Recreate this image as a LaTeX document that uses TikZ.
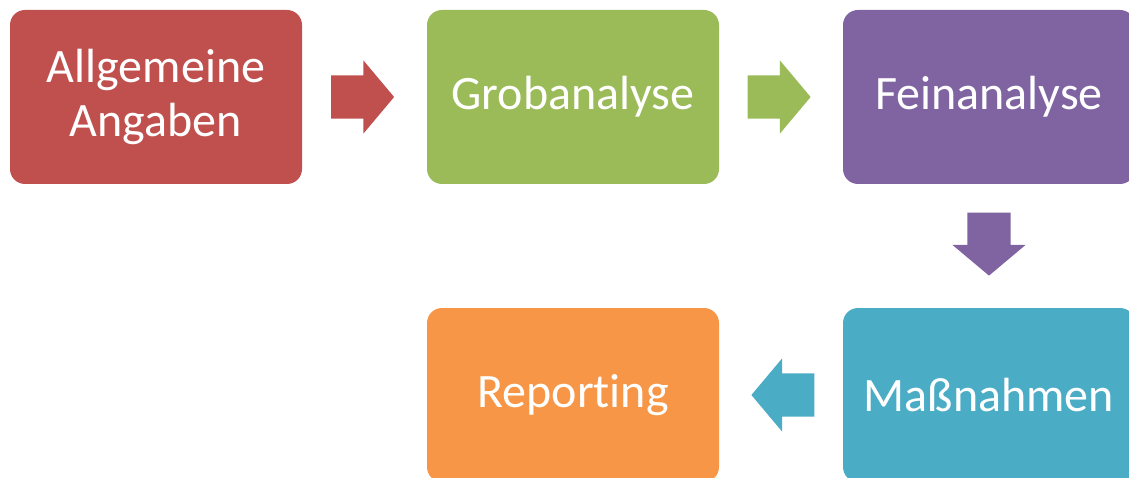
\documentclass[tikz,border=0pt]{standalone}
\usepackage{fontspec}
\setmainfont{Carlito}[Ligatures=NoCommon]
\usetikzlibrary{shapes.arrows,positioning}
\definecolor{stepred}{HTML}{C0504D}
\definecolor{stepgreen}{HTML}{9BBB59}
\definecolor{steppurple}{HTML}{8064A2}
\definecolor{stepteal}{HTML}{4BACC6}
\definecolor{steporange}{HTML}{F79646}

\begin{document}
\begin{tikzpicture}[x=1pt,y=-1pt,
  stepbox/.style={rounded corners=15pt,minimum width=292pt,minimum height=174pt,
    inner sep=0pt,align=center,text=white,font=\fontsize{48}{54}\selectfont},
  flow/.style={single arrow,inner sep=0pt,minimum height=63pt,
    single arrow head extend=15pt,single arrow tip angle=100}]
 \useasboundingbox (0,0) rectangle (1129,478);
 \node[stepbox,fill=stepred] (angaben) at (156,97) {Allgemeine\\Angaben};
 \node[stepbox,fill=stepgreen] (grob) at (573,97) {Grobanalyse};
 \node[stepbox,fill=steppurple] (fein) at (989,97) {Feinanalyse};
 \node[stepbox,fill=stepteal] (massn) at (989,395) {Maßnahmen};
 \node[stepbox,fill=steporange] (report) at (573,395) {Reporting};
 % block arrows between the steps
 \path (angaben) -- (grob) node[midway,flow,fill=stepred,xshift=-11pt] {\rule{0pt}{43pt}};
 \path (grob) -- (fein) node[midway,flow,fill=stepgreen,xshift=-11pt] {\rule{0pt}{43pt}};
 \path (fein) -- (massn) node[midway,flow,fill=steppurple,shape border rotate=270,yshift=11pt] {\rule{43pt}{0pt}};
 \path (massn) -- (report) node[midway,flow,fill=stepteal,shape border rotate=180,xshift=11pt] {\rule{0pt}{43pt}};
\end{tikzpicture}
\end{document}
